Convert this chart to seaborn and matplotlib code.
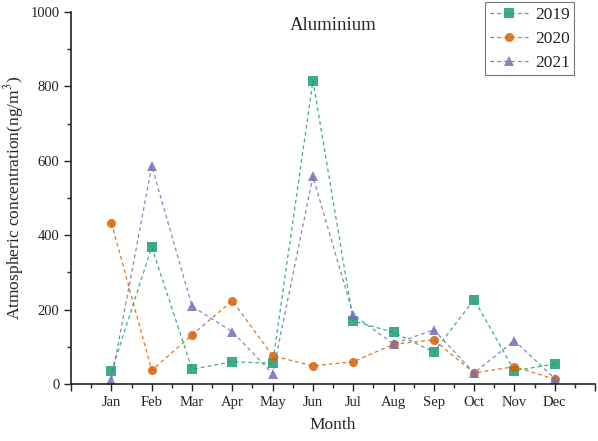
import numpy as np
import pandas as pd
import matplotlib
matplotlib.use("Agg")
import matplotlib.pyplot as plt
import seaborn as sns
from matplotlib.ticker import MultipleLocator, FixedLocator

months = ["Jan", "Feb", "Mar", "Apr", "May", "Jun", "Jul", "Aug", "Sep", "Oct", "Nov", "Dec"]
years = ["2019", "2020", "2021"]
v2019 = [34, 368, 40, 60, 56, 815, 170, 139, 86, 227, 36, 54]
v2020 = [433, 37, 132, 224, 76, 49, 60, 107, 119, 30, 47, 13]
v2021 = [12, 586, 209, 141, 28, 558, 186, 108, 146, 30, 117, 15]
colors = ["#1b9e77", "#d95f02", "#7570b3"]
markers = ["s", "o", "^"]

rows = []
for y, vals in zip(years, [v2019, v2020, v2021]):
    for i, (m, v) in enumerate(zip(months, vals)):
        rows.append({"Year": y, "pos": i + 1, "Month": m, "value": v})
df = pd.DataFrame(rows)

sns.set_style("ticks")
plt.rcParams["font.family"] = ["Liberation Serif", "DejaVu Serif"]
plt.rcParams["mathtext.fontset"] = "stix"

fig = plt.figure(figsize=(5.98, 4.41), dpi=100)
ax = fig.add_axes([0.119, 0.129, 0.876, 0.844])

sns.lineplot(data=df, x="pos", y="value", hue="Year", style="Year",
             palette=colors, markers=markers, dashes=[(3, 2.5)] * 3,
             markersize=6.5, markeredgewidth=0, linewidth=0.9, alpha=0.85, ax=ax)

ax.set_xlim(0, 13)
ax.set_ylim(0, 1000)
ax.xaxis.set_major_locator(FixedLocator(list(range(0, 14))))
ax.set_xticklabels([""] + months + [""])
ax.xaxis.set_minor_locator(MultipleLocator(0.5))
ax.yaxis.set_major_locator(MultipleLocator(200))
ax.yaxis.set_minor_locator(MultipleLocator(100))
ax.tick_params(axis="both", which="major", direction="out", length=5, width=1, labelsize=10.5, colors="#222222")
ax.tick_params(axis="both", which="minor", direction="out", length=3, width=1)
for s in ["top", "right"]:
    ax.spines[s].set_visible(False)
for s in ["left", "bottom"]:
    ax.spines[s].set_linewidth(1.2)
    ax.spines[s].set_color("#222222")

ax.set_xlabel("Month", fontsize=12.5, labelpad=6)
ax.set_ylabel("Atmospheric concentration(ng/m$^3$)", fontsize=12.5, labelpad=3)
ax.text(0.5, 0.985, "Aluminium", transform=ax.transAxes, ha="center", va="top", fontsize=13.5)

leg = ax.legend(loc="upper right", bbox_to_anchor=(0.97, 1.04), frameon=True, fontsize=12.5,
                handlelength=2.2, borderpad=0.25, labelspacing=0.45, handletextpad=0.4,
                borderaxespad=0.3, fancybox=False)
leg.get_frame().set_edgecolor("#555555")
leg.get_frame().set_linewidth(0.8)

fig.savefig("out.png", dpi=100)
